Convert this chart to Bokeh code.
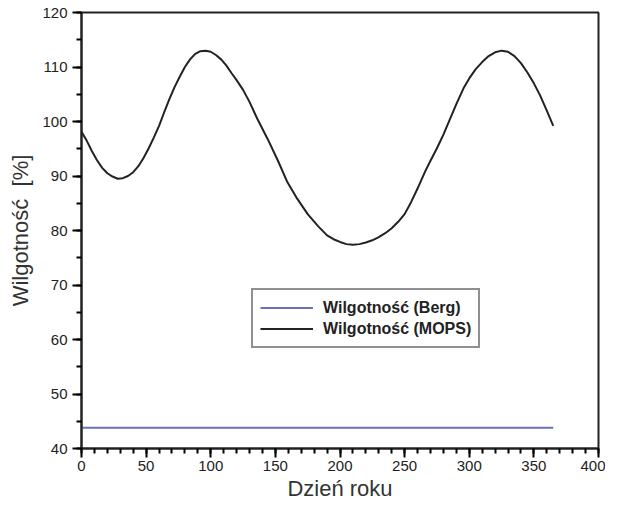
from bokeh.plotting import figure
from bokeh.models import Range1d, SingleIntervalTicker, Legend, LegendItem
from bokeh.embed import file_html
from bokeh.resources import INLINE

# MOPS humidity curve
days_mops = [0, 4, 8, 12, 16, 20, 24, 28, 32, 36, 40, 44, 48, 52, 56, 60, 64, 68, 72,
             76, 80, 84, 88, 92, 96, 100, 104, 108, 112, 116, 120, 125, 130, 136, 144,
             152, 159, 167, 175, 183, 190, 195, 200, 205, 210, 215, 220, 225, 230, 235,
             240, 245, 250, 255, 260, 266, 270, 275, 280, 285, 290, 296, 300, 305, 310,
             315, 320, 325, 330, 335, 340, 345, 350, 355, 360, 365]
hum_mops = [98.1, 96.5, 94.6, 92.9, 91.5, 90.5, 89.9, 89.5, 89.6, 90.0, 90.7, 91.8,
            93.3, 95.1, 97.1, 99.2, 101.7, 104.1, 106.3, 108.2, 110.0, 111.4, 112.4,
            112.9, 113.0, 112.8, 112.2, 111.4, 110.3, 108.9, 107.6, 105.8, 103.6, 100.5,
            96.8, 92.8, 89.0, 85.8, 83.0, 80.8, 79.1, 78.4, 77.9, 77.5, 77.4, 77.5,
            77.8, 78.2, 78.8, 79.5, 80.4, 81.6, 83.0, 85.2, 87.7, 90.9, 92.8, 95.1,
            97.6, 100.4, 103.2, 106.3, 107.9, 109.6, 110.9, 112.0, 112.7, 113.0, 112.8,
            112.0, 110.7, 109.0, 107.0, 104.7, 102.0, 99.2]

# Berg humidity (constant)
days_berg = [0, 365]
hum_berg = [43.8, 43.8]

x_major_step = 50
y_major_step = 10

p = figure(width=605, height=503, output_backend="svg", toolbar_location=None,
           x_range=Range1d(0, 400), y_range=Range1d(40, 120),
           min_border_left=81, min_border_right=7, min_border_top=12, min_border_bottom=50)

p.background_fill_color = "white"
p.border_fill_color = "white"
p.outline_line_color = "#222222"
p.outline_line_width = 2
p.xgrid.visible = False
p.ygrid.visible = False

r_berg = p.line(days_berg, hum_berg, line_color="#6b6fc0", line_width=2)
r_mops = p.line(days_mops, hum_mops, line_color="#222222", line_width=2)

p.xaxis[0].ticker = SingleIntervalTicker(interval=x_major_step, num_minor_ticks=5)
p.yaxis[0].ticker = SingleIntervalTicker(interval=y_major_step, num_minor_ticks=2)

for ax in (p.xaxis[0], p.yaxis[0]):
    ax.axis_line_color = "#222222"
    ax.axis_line_width = 2
    ax.major_tick_line_color = "black"
    ax.major_tick_line_width = 2
    ax.minor_tick_line_color = "black"
    ax.minor_tick_line_width = 2
    ax.major_tick_in = 0
    ax.major_tick_out = 9
    ax.minor_tick_in = 0
    ax.minor_tick_out = 5
    ax.major_label_text_font = "Liberation Sans"
    ax.major_label_text_font_size = "15px"
    ax.major_label_text_color = "#222222"
    ax.axis_label_text_font = "Liberation Sans"
    ax.axis_label_text_font_style = "normal"
    ax.axis_label_text_color = "#333333"

p.xaxis[0].major_label_standoff = 3
p.yaxis[0].major_label_standoff = 5
p.xaxis[0].axis_label = "Dzień roku"
p.xaxis[0].axis_label_text_font_size = "22px"
p.xaxis[0].axis_label_standoff = 2
p.yaxis[0].axis_label = "Wilgotność\u00a0\u00a0[%]"
p.yaxis[0].axis_label_text_font_size = "22px"
p.yaxis[0].axis_label_standoff = 6

legend = Legend(items=[LegendItem(label="Wilgotność (Berg)", renderers=[r_berg]),
                       LegendItem(label="Wilgotność (MOPS)", renderers=[r_mops])],
                location=(170, 100))
legend.label_text_font = "Liberation Sans"
legend.label_text_font_style = "bold"
legend.label_text_font_size = "16px"
legend.label_text_color = "#222222"
legend.glyph_width = 53
legend.glyph_height = 21
legend.label_height = 21
legend.label_standoff = 10
legend.spacing = 0
legend.padding = 7
legend.margin = 0
legend.border_line_color = "#222222"
legend.border_line_width = 2
legend.background_fill_color = "white"
legend.background_fill_alpha = 1
p.add_layout(legend, "center")

open("out.html", "w").write(file_html(p, INLINE))
